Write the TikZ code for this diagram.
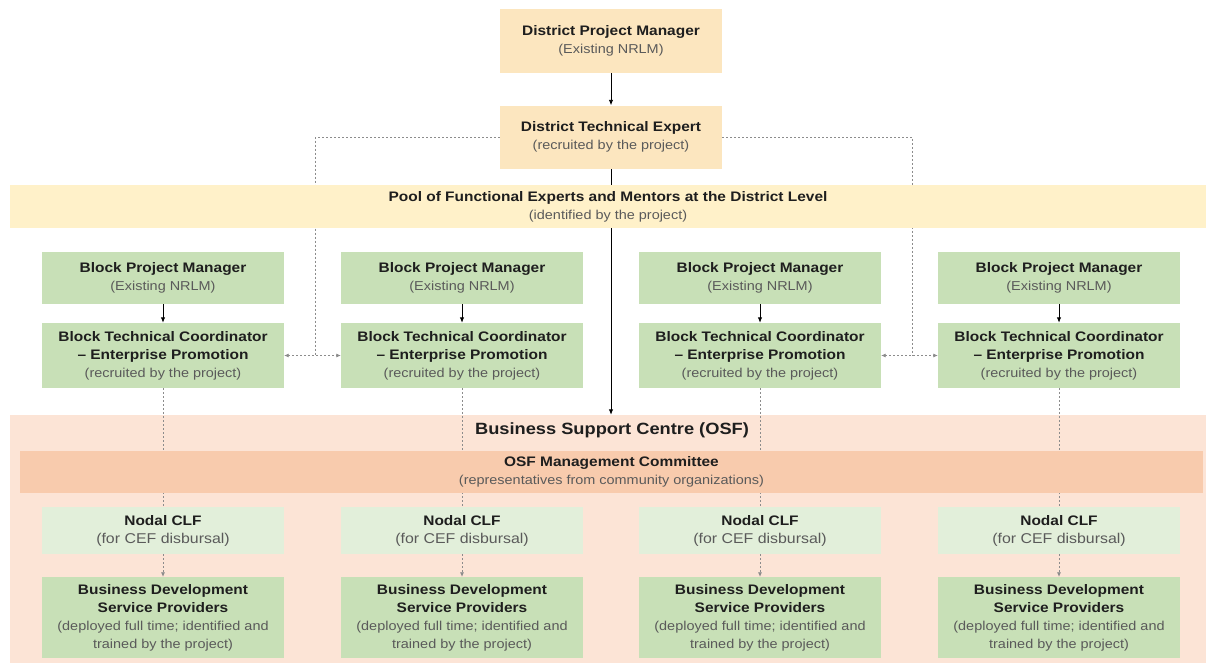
\documentclass[tikz,border=0pt]{standalone}
\usepackage{fontspec}
\setmainfont[FakeStretch=1.12]{Liberation Sans}
\usetikzlibrary{arrows.meta,calc}
\definecolor{gboxc}{HTML}{C8E0B7}
\definecolor{nodc}{HTML}{E2EFDA}
\definecolor{bscc}{HTML}{FCE4D6}
\definecolor{osfc}{HTML}{F8CBAD}
\definecolor{poolc}{HTML}{FFF1C9}
\definecolor{dpmc}{HTML}{FCE6BF}
\definecolor{titlec}{HTML}{1E1E1E}
\definecolor{subc}{HTML}{5A5A5A}
\definecolor{dashc}{HTML}{8C8C8C}
\pgfdeclarelayer{bg}
\pgfdeclarelayer{mid}
\pgfsetlayers{bg,mid,main}
\newcommand{\tf}{\fontsize{13.8}{18}\selectfont\bfseries\color{titlec}}
\newcommand{\subf}{\fontsize{12.9}{18}\selectfont\mdseries\color{subc}}
\newcommand{\nsubf}{\fontsize{14.2}{18}\selectfont\mdseries\color{subc}}
\newcommand{\bigf}{\fontsize{16.3}{20}\selectfont\bfseries\color{titlec}}
\begin{document}
\begin{tikzpicture}[x=1pt,y=-1pt,
  box/.style={rectangle, inner sep=0pt, align=center, draw=none, font=\fontsize{13}{18}\selectfont},
  gbox/.style={box, fill=gboxc, minimum width=242pt},
  nodbox/.style={box, fill=nodc, minimum width=242pt, minimum height=47pt},
  topbox/.style={box, fill=dpmc, minimum width=222pt},
  solidarr/.style={draw=black, line width=0.9pt, -{Latex[length=5.5pt,width=4.5pt]}},
  dline/.style={draw=dashc, line width=0.7pt, dash pattern=on 2pt off 2pt},
  dtip/.style={-{Latex[length=4.5pt,width=4pt]}}
]
\useasboundingbox (0,0) rectangle (1206,665);

\begin{pgfonlayer}{bg}
\node[box, fill=bscc, minimum width=1196pt, minimum height=248pt] (bsc) at (608,539) {};
\end{pgfonlayer}

\node[topbox, minimum height=64pt] (dpm) at (611,41)
  {\tf District Project Manager\\\subf (Existing NRLM)};
\node[topbox, minimum height=63pt] (dte) at (611,137)
  {\tf District Technical Expert\\\subf (recruited by the project)};
\node[box, fill=poolc, minimum width=1196pt, minimum height=43pt] (pool) at (608,206.5)
  {\tf Pool of Functional Experts and Mentors at the District Level\\\subf (identified by the project)};

\node[box] (bsctitle) at (612,430) {\bigf Business Support Centre (OSF)};
\node[box, fill=osfc, minimum width=1183pt, minimum height=42pt] (osf) at (611.5,472)
  {\tf OSF Management Committee\\\subf (representatives from community organizations)};

\foreach \i/\cx in {1/163,2/462,3/760,4/1059}{
  \node[gbox, minimum height=52pt] (bpm\i) at (\cx,278)
    {\tf Block Project Manager\\\subf (Existing NRLM)};
  \node[gbox, minimum height=65pt] (btc\i) at (\cx,355.5)
    {\tf Block Technical Coordinator\\\tf -- Enterprise Promotion\\\subf (recruited by the project)};
  \node[nodbox] (nod\i) at (\cx,530.5)
    {\tf Nodal CLF\\\nsubf (for CEF disbursal)};
  \node[gbox, minimum height=81pt] (bds\i) at (\cx,617.5)
    {\tf Business Development\\\tf Service Providers\\\subf (deployed full time; identified and\\\subf trained by the project)};
}

\coordinate (jl) at ($(btc1.east)!0.55!(btc2.west)$);
\coordinate (jr) at ($(btc3.east)!0.55!(btc4.west)$);

\begin{pgfonlayer}{mid}
\draw[solidarr] (dpm.south) -- (dte.north);
\draw[solidarr] (dte.south) -- (dte.south |- bsc.north);
\foreach \i in {1,2,3,4}{
  \draw[solidarr] (bpm\i.south) -- (btc\i.north);
  \draw[dline] (btc\i.south) -- (nod\i.north);
  \draw[dline, dtip] (nod\i.south) -- (bds\i.north);
}
\draw[dline] (dte.west) -| (jl);
\draw[dline] (dte.east) -| (jr);
\draw[dline, {Latex[length=4.5pt,width=4pt]}-{Latex[length=4.5pt,width=4pt]}] (btc1.east) -- (btc2.west);
\draw[dline, {Latex[length=4.5pt,width=4pt]}-{Latex[length=4.5pt,width=4pt]}] (btc3.east) -- (btc4.west);
\end{pgfonlayer}
\end{tikzpicture}
\end{document}
